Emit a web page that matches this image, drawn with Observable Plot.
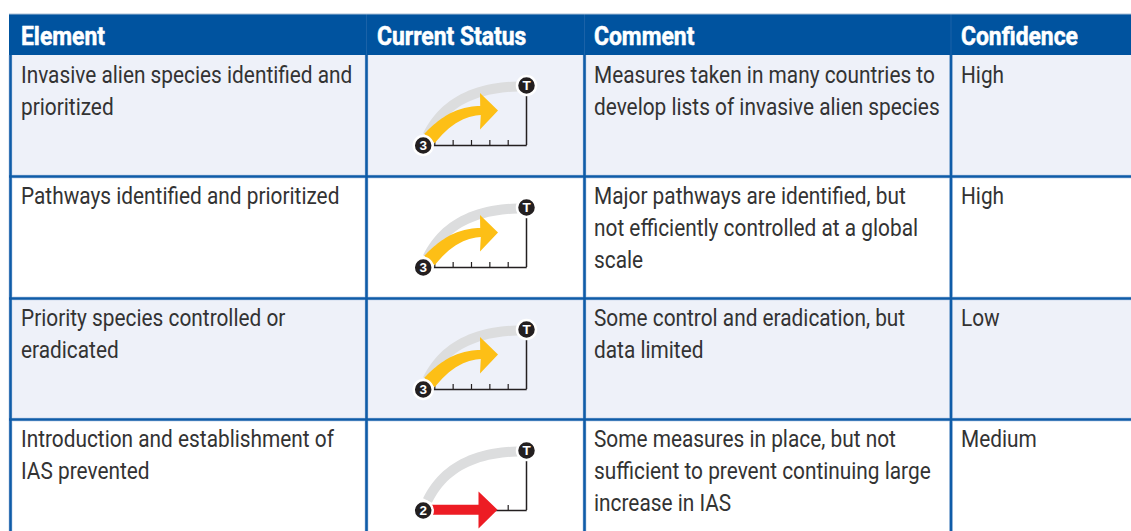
<!DOCTYPE html>
<html><head><meta charset="utf-8">
<script src="https://cdn.jsdelivr.net/npm/d3@7"></script>
<script src="https://cdn.jsdelivr.net/npm/@observablehq/plot@0.6"></script>
<style>html,body{margin:0;padding:0;background:#fff;overflow:hidden}svg{display:block}</style>
</head><body><div id="chart"></div>
<script>
// ---- content
const headers = ["Element", "Current Status", "Comment", "Confidence"];
const elements = ["Invasive alien species identified and\nprioritized", "Pathways identified and prioritized", "Priority species controlled or\neradicated", "Introduction and establishment of\nIAS prevented"];
const comments = ["Measures taken in many countries to\ndevelop lists of invasive alien species", "Major pathways are identified, but\nnot efficiently controlled at a global\nscale", "Some control and eradication, but\ndata limited", "Some measures in place, but not\nsufficient to prevent continuing large\nincrease in IAS"];
const confidence = ["High", "High", "Low", "Medium"];
const statusCode = [3, 3, 3, 2];
const statusKind = ["progress", "progress", "progress", "flat"];

// ---- layout (table grid, in page units)
const W = 1131, H = 531;
const colRules = [10, 366, 584, 950.5];
const tableLeft = 9;
const headerTop = 14, headerBottom = 55;
const rowEdges = [55, 176, 298, 419, 541];
const textX = [20.5, 376.5, 593.5, 960.5];
const rowBands = [0, 1, 2, 3];
const gaugeX = 422.7, gaugeTopY = 85, gaugeAxisY = 145, gaugeRight = 526;
const gaugeDY = [0, 122, 244, 365];

const cubic = (p, t) => {
  const u = 1 - t;
  return [0, 1].map(i => u*u*u*p[0][i] + 3*u*u*t*p[1][i] + 3*u*t*t*p[2][i] + t*t*t*p[3][i]);
};
const steps = d3.range(0, 1.0001, 0.04);
const ribbon = (p, w0, w1) => {
  const mid = steps.map(t => cubic(p, t));
  const normal = i => {
    const a = mid[Math.max(0, i-1)], b = mid[Math.min(mid.length-1, i+1)];
    const dx = b[0]-a[0], dy = b[1]-a[1], l = Math.hypot(dx, dy);
    return [-dy/l, dx/l];
  };
  const width = i => w0 + (w1-w0) * i/(mid.length-1);
  const top = mid.map((m,i) => { const n = normal(i), w = width(i)/2; return [m[0]+n[0]*w, m[1]+n[1]*w]; });
  const bot = mid.map((m,i) => { const n = normal(i), w = width(i)/2; return [m[0]-n[0]*w, m[1]-n[1]*w]; });
  return {top, bot};
};
const greyCurve = [[427,135],[442,104],[472,87],[517,86]];
const yellowCurve = [[429,138],[443,122],[458,111],[480,110]];

const polys = [];
statusKind.forEach((kind, r) => {
  const dy = gaugeDY[r];
  const add = (id, color, pts) => pts.forEach(([x,y]) => polys.push({id: r+id, color, x, y: y+dy}));
  const g = ribbon(greyCurve, 10, 10);
  add("g", "#dcddde", [...g.top, ...g.bot.slice().reverse()]);
  if (kind === "progress") {
    const a = ribbon(yellowCurve, 14, 9);
    const upper = a.top[0][1] < a.bot[0][1] ? a.top : a.bot;
    const lower = upper === a.top ? a.bot : a.top;
    add("a", "#fdbf16", [...upper, [479.5,92.5],[497.5,110],[479.5,129], ...lower.slice().reverse()]);
  } else {
    add("a", "#ed1c24", [[430,139.3],[478,139.3],[478,126],[497,144.3],[478,163],[478,149.3],[430,149.3]]);
  }
});

const grid = [];
rowBands.forEach(r => {
  const firstTick = statusKind[r] === "flat" ? 4 : 0;
  d3.range(firstTick, 5).forEach(i => grid.push({x: 434.3 + i*18.35, y1: gaugeAxisY+gaugeDY[r]-5, y2: gaugeAxisY+gaugeDY[r]}));
});

const rows = rowBands.map(r => ({r, y1: rowEdges[r], y2: rowEdges[r+1], fill: r % 2 ? "#ffffff" : "#eef1f9"}));
const cells = rowBands.flatMap(r => [
  {x: textX[0], y: rowEdges[r] + 5, t: elements[r]},
  {x: textX[2], y: rowEdges[r] + 5, t: comments[r]},
  {x: textX[3], y: rowEdges[r] + 5, t: confidence[r]}
]);
const heads = headers.map((t,i) => ({t, x: textX[i], y: 36}));
const gauges = rowBands.map(r => ({r, code: String(statusCode[r]), x0: gaugeX, x1: gaugeRight, y0: gaugeAxisY + gaugeDY[r], yt: gaugeTopY + gaugeDY[r]}));

const blue = "#00539f", rule = "#0f5ca8", ink = "#333333";
const bodyFont = "Roboto, sans-serif";
const glyphFont = "Liberation Sans, sans-serif";

// the reference face is a condensed one: narrow the installed face horizontally
const squeeze = k => function(index, scales, values, dims, ctx, next) {
  const g = next(index, scales, values, dims, ctx);
  g.querySelectorAll("text").forEach(t => {
    t.setAttribute("transform", (t.getAttribute("transform") || "") + ` scale(${k},1)`);
  });
  return g;
};

const plot = Plot.plot({
  width: W, height: H, margin: 0,
  x: {domain: [0, W], range: [0, W], axis: null},
  y: {domain: [0, H], range: [0, H], axis: null},
  style: {background: "#fff"},
  marks: [
    Plot.rect(rows, {x1: tableLeft, x2: W, y1: "y1", y2: "y2", fill: "fill"}),
    Plot.rect([0], {x1: tableLeft, x2: W, y1: headerTop, y2: headerBottom, fill: blue}),
    Plot.ruleY(rowEdges.slice(1,4), {x1: tableLeft, x2: W, stroke: "#cfdced", strokeWidth: 4}),
    Plot.ruleX(colRules, {y1: headerBottom, y2: H, stroke: "#cfdced", strokeWidth: 4}),
    Plot.ruleY(rowEdges.slice(1,4), {x1: tableLeft, x2: W, stroke: rule, strokeWidth: 2.6}),
    Plot.ruleX(colRules, {y1: headerBottom, y2: H, stroke: rule, strokeWidth: 2.6}),
    Plot.ruleX(colRules.slice(1), {y1: headerTop, y2: headerBottom, stroke: "#1a62a8", strokeWidth: 1}),
    Plot.ruleY([headerTop-0.5], {x1: tableLeft, x2: W, stroke: "#a9bfd6", strokeWidth: 1}),
    Plot.text(heads, {x: "x", y: "y", text: "t", textAnchor: "start", fill: "#fff", fontSize: 25, fontWeight: 700, fontFamily: bodyFont, stroke: "#fff", strokeWidth: 0.5, render: squeeze(0.915)}),
    Plot.text(cells, {x: "x", y: "y", text: "t", textAnchor: "start", lineAnchor: "top", lineHeight: 32/23, fontSize: 23, fill: ink, fontFamily: bodyFont, render: squeeze(0.906)}),
    Plot.ruleY(gauges, {y: "y0", x1: "x0", x2: gaugeRight + 0.7, stroke: "#231f20", strokeWidth: 1.5}),
    Plot.ruleX(gauges, {x: "x1", y1: "yt", y2: "y0", stroke: "#231f20", strokeWidth: 1.5}),
    Plot.ruleX(grid, {x: "x", y1: "y1", y2: "y2", stroke: "#231f20", strokeWidth: 1.2}),
    Plot.line(polys, {x: "x", y: "y", z: "id", fill: d => d.color, stroke: null, curve: "linear"}),
    Plot.dot(gauges, {x: "x0", y: "y0", r: 9.5, fill: "#231f20", stroke: "#fff", strokeWidth: 2.5}),
    Plot.dot(gauges, {x: "x1", y: "yt", r: 9.5, fill: "#231f20", stroke: "#fff", strokeWidth: 2.5}),
    Plot.text(gauges, {x: "x0", y: "y0", text: "code", fill: "#fff", fontSize: 13.5, fontWeight: 700, fontFamily: glyphFont}),
    Plot.text(gauges, {x: "x1", y: "yt", text: () => "T", fill: "#fff", fontSize: 13.5, fontWeight: 700, fontFamily: glyphFont})
  ]
});
document.getElementById("chart").append(plot);
</script></body></html>
